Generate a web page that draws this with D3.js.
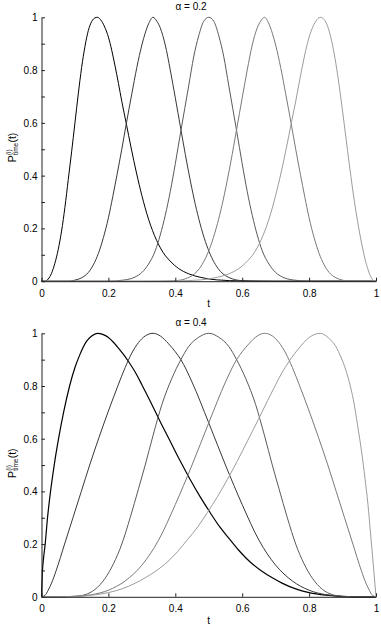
<!DOCTYPE html>
<html>
<head>
<meta charset="utf-8">
<script src="https://cdn.jsdelivr.net/npm/d3@7"></script>
<style>
  html, body { margin: 0; padding: 0; background: #fff; }
  svg { display: block; }
  text { font-family: "Liberation Sans", Arial, Helvetica, sans-serif; fill: #000; }
</style>
</head>
<body>
<svg id="chart" width="381" height="627"></svg>
<script>
// ---------------- data ----------------
const panelTitles = ["α = 0.2", "α = 0.4"];
const xTickValues = [0, 0.2, 0.4, 0.6, 0.8, 1];
const xTickLabels = ["0", "0.2", "0.4", "0.6", "0.8", "1"];
const yTickValues = [0, 0.2, 0.4, 0.6, 0.8, 1];
const yTickLabels = ["0", "0.2", "0.4", "0.6", "0.8", "1"];
const yMinorTicks = [0.1, 0.3, 0.5, 0.7, 0.9];
const xLabel = "t";

// alpha = 0.2, curves peaking at i/6
const a02_i1 = [[0,0],[0.01,0],[0.02,0.008],[0.03,0.03],[0.04,0.068],[0.05,0.12],[0.06,0.19],[0.07,0.28],[0.08,0.385],[0.09,0.49],[0.1,0.6],[0.11,0.71],[0.12,0.81],[0.13,0.89],[0.14,0.95],[0.15,0.984],[0.16,0.998],[0.1667,1],[0.18,0.985],[0.19,0.96],[0.2,0.925],[0.21,0.875],[0.22,0.815],[0.23,0.75],[0.24,0.682],[0.253,0.6],[0.268,0.505],[0.284,0.41],[0.3,0.325],[0.32,0.235],[0.344,0.155],[0.364,0.108],[0.384,0.077],[0.41,0.048],[0.44,0.028],[0.474,0.015],[0.524,0.005],[0.6,0.001],[0.7,0],[1,0]];
const a02_i2 = [[0,0],[0.08,0],[0.1,0.004],[0.12,0.013],[0.14,0.033],[0.155,0.062],[0.17,0.105],[0.185,0.165],[0.2,0.24],[0.213,0.32],[0.226,0.405],[0.24,0.5],[0.254,0.6],[0.27,0.71],[0.285,0.81],[0.3,0.895],[0.31,0.94],[0.32,0.975],[0.3333,1],[0.345,0.985],[0.355,0.96],[0.37,0.895],[0.385,0.8],[0.4,0.695],[0.4167,0.575],[0.43,0.48],[0.445,0.38],[0.46,0.29],[0.474,0.218],[0.49,0.15],[0.505,0.1],[0.52,0.063],[0.535,0.037],[0.55,0.021],[0.57,0.009],[0.6,0.002],[0.65,0],[1,0]];
const a02_i3 = [[0,0],[0.2,0],[0.25,0.005],[0.28,0.016],[0.3,0.033],[0.32,0.065],[0.34,0.115],[0.355,0.175],[0.37,0.25],[0.385,0.34],[0.4,0.445],[0.4167,0.57],[0.44,0.74],[0.455,0.85],[0.47,0.93],[0.485,0.985],[0.5,1],[0.515,0.985],[0.53,0.93],[0.545,0.85],[0.56,0.74],[0.5833,0.57],[0.6,0.445],[0.615,0.34],[0.63,0.25],[0.645,0.175],[0.66,0.115],[0.68,0.065],[0.7,0.033],[0.72,0.016],[0.75,0.005],[0.8,0],[1,0]];
const a02_i4 = [[0,0],[0.35,0],[0.4,0.002],[0.43,0.009],[0.45,0.021],[0.465,0.037],[0.48,0.063],[0.495,0.1],[0.51,0.15],[0.526,0.218],[0.54,0.29],[0.555,0.38],[0.57,0.48],[0.5833,0.575],[0.6,0.695],[0.615,0.8],[0.63,0.895],[0.645,0.96],[0.655,0.985],[0.6667,1],[0.68,0.975],[0.69,0.94],[0.7,0.895],[0.715,0.81],[0.73,0.71],[0.746,0.6],[0.76,0.5],[0.774,0.405],[0.787,0.32],[0.8,0.24],[0.815,0.165],[0.83,0.105],[0.845,0.062],[0.86,0.033],[0.88,0.013],[0.9,0.004],[0.92,0],[1,0]];
const a02_i5 = [[0,0],[0.3,0],[0.4,0.001],[0.476,0.005],[0.526,0.015],[0.56,0.028],[0.59,0.048],[0.616,0.077],[0.636,0.108],[0.656,0.155],[0.68,0.235],[0.7,0.325],[0.716,0.41],[0.732,0.505],[0.747,0.6],[0.76,0.682],[0.77,0.75],[0.78,0.815],[0.79,0.875],[0.8,0.925],[0.81,0.96],[0.82,0.985],[0.8333,1],[0.84,0.997],[0.85,0.982],[0.86,0.948],[0.87,0.895],[0.88,0.825],[0.89,0.74],[0.9,0.645],[0.91,0.545],[0.92,0.445],[0.93,0.35],[0.94,0.265],[0.95,0.19],[0.96,0.125],[0.97,0.07],[0.98,0.03],[0.99,0.005],[0.995,0],[1,0]];

// alpha = 0.4
const a04_i1 = [[0,0],[0.003,0.1],[0.006,0.145],[0.011,0.2],[0.018,0.3],[0.027,0.4],[0.038,0.5],[0.051,0.6],[0.066,0.7],[0.084,0.8],[0.1,0.87],[0.115,0.92],[0.135,0.97],[0.15,0.99],[0.1667,1],[0.185,0.995],[0.2,0.984],[0.215,0.966],[0.23,0.944],[0.245,0.92],[0.26,0.893],[0.28,0.853],[0.3,0.805],[0.324,0.745],[0.352,0.672],[0.384,0.592],[0.414,0.517],[0.444,0.446],[0.474,0.38],[0.504,0.32],[0.533,0.265],[0.563,0.218],[0.593,0.172],[0.623,0.133],[0.659,0.097],[0.69,0.072],[0.719,0.052],[0.76,0.03],[0.8,0.016],[0.85,0.006],[0.9,0.001],[0.95,0],[1,0]];
const a04_i2 = [[0,0],[0.01,0.005],[0.02,0.025],[0.03,0.052],[0.044,0.1],[0.069,0.2],[0.094,0.3],[0.119,0.4],[0.144,0.5],[0.172,0.605],[0.2,0.705],[0.229,0.803],[0.25,0.87],[0.27,0.925],[0.29,0.965],[0.31,0.99],[0.3333,1],[0.355,0.99],[0.38,0.96],[0.4,0.93],[0.4167,0.9],[0.45,0.815],[0.5,0.66],[0.55,0.5],[0.6,0.35],[0.65,0.215],[0.7,0.12],[0.75,0.06],[0.8,0.025],[0.85,0.008],[0.9,0.002],[0.95,0],[1,0]];
const a04_i3 = [[0,0],[0.05,0],[0.1,0.002],[0.13,0.008],[0.16,0.028],[0.19,0.07],[0.215,0.125],[0.24,0.2],[0.265,0.3],[0.29,0.41],[0.31,0.5],[0.333,0.61],[0.36,0.73],[0.39,0.83],[0.4167,0.9],[0.44,0.95],[0.47,0.985],[0.5,1],[0.53,0.985],[0.56,0.95],[0.5833,0.9],[0.61,0.83],[0.64,0.73],[0.667,0.61],[0.69,0.5],[0.71,0.41],[0.735,0.3],[0.76,0.2],[0.785,0.125],[0.81,0.07],[0.84,0.028],[0.87,0.008],[0.9,0.002],[0.95,0],[1,0]];
const a04_i4 = [[0,0],[0.05,0],[0.1,0.002],[0.15,0.008],[0.2,0.025],[0.25,0.06],[0.3,0.12],[0.35,0.215],[0.4,0.35],[0.45,0.5],[0.5,0.66],[0.55,0.815],[0.5833,0.9],[0.6,0.93],[0.62,0.96],[0.645,0.99],[0.6667,1],[0.69,0.99],[0.71,0.965],[0.73,0.925],[0.75,0.87],[0.771,0.803],[0.8,0.705],[0.828,0.605],[0.856,0.5],[0.881,0.4],[0.906,0.3],[0.931,0.2],[0.956,0.1],[0.97,0.052],[0.98,0.025],[0.99,0.005],[1,0]];
const a04_i5 = [[0,0],[0.05,0],[0.1,0.001],[0.15,0.006],[0.2,0.016],[0.24,0.03],[0.281,0.052],[0.31,0.072],[0.341,0.097],[0.377,0.133],[0.407,0.172],[0.437,0.218],[0.467,0.265],[0.496,0.32],[0.526,0.38],[0.556,0.446],[0.586,0.517],[0.616,0.592],[0.648,0.672],[0.676,0.745],[0.7,0.805],[0.72,0.853],[0.74,0.893],[0.755,0.92],[0.77,0.944],[0.785,0.966],[0.8,0.984],[0.815,0.995],[0.8333,1],[0.86,0.98],[0.88,0.95],[0.895,0.91],[0.91,0.86],[0.923,0.8],[0.932,0.75],[0.945,0.65],[0.957,0.55],[0.967,0.45],[0.976,0.35],[0.983,0.25],[0.99,0.15],[0.996,0.06],[1,0]];

const panelSeries = [
  [a02_i1, a02_i2, a02_i3, a02_i4, a02_i5],
  [a04_i1, a04_i2, a04_i3, a04_i4, a04_i5]
];

// ---------------- styling / layout ----------------
const lineColors = ["#000000", "#383838", "#5a5a5a", "#7a7a7a", "#9c9c9c"];
const panelsLayout = [
  { yTop: 17.3, yBottom: 281.2, titleY: 10, tickLabelY: 297, xLabelY: 307 },
  { yTop: 333.3, yBottom: 596.8, titleY: 326, tickLabelY: 612, xLabelY: 623.5 }
];
const xLeft = 41.5, xRight = 376;

const svg = d3.select("#chart");
const x = d3.scaleLinear().domain([0, 1]).range([xLeft, xRight]);

panelsLayout.forEach((L, p) => {
  const y = d3.scaleLinear().domain([0, 1]).range([L.yBottom, L.yTop]);
  const g = svg.append("g");

  // curves
  const line = d3.line().x(d => x(d[0])).y(d => y(d[1])).curve(d3.curveMonotoneX);
  panelSeries[p].forEach((s, i) => {
    g.append("path")
      .attr("d", line(s))
      .attr("fill", "none")
      .attr("stroke", lineColors[i])
      .attr("stroke-width", p === 1 && i === 0 ? 1.2 : 1);
  });

  // y axis (ticks inside)
  const yAxis = d3.axisLeft(y)
    .tickValues(yTickValues)
    .tickFormat((d, i) => yTickLabels[i])
    .tickSizeInner(-3.5).tickSizeOuter(0).tickPadding(4);
  const ya = g.append("g").attr("transform", `translate(${xLeft},0)`).call(yAxis);
  const yMinor = d3.axisLeft(y).tickValues(yMinorTicks).tickFormat("")
    .tickSizeInner(-3.5).tickSizeOuter(0);
  const ym = g.append("g").attr("transform", `translate(${xLeft},0)`).call(yMinor);
  ym.select(".domain").remove();

  // x axis (ticks inside)
  const xAxis = d3.axisBottom(x)
    .tickValues(xTickValues)
    .tickFormat((d, i) => xTickLabels[i])
    .tickSizeInner(-3.5).tickSizeOuter(0).tickPadding(4);
  const xa = g.append("g").attr("transform", `translate(0,${L.yBottom})`).call(xAxis);
  xa.selectAll(".tick text").attr("dy", null)
    .attr("y", L.tickLabelY - L.yBottom);

  [ya, ym, xa].forEach(a => {
    a.selectAll("text").style("font-size", "10px").attr("fill", "#000");
    a.selectAll("line").attr("stroke", "#222");
    a.selectAll(".domain").attr("stroke", "#222");
    a.attr("font-family", null).attr("font-size", null);
  });
  ya.selectAll(".tick text").attr("dy", "0.35em");

  // title
  g.append("text")
    .attr("x", 191).attr("y", L.titleY)
    .attr("text-anchor", "middle")
    .style("font-size", "10px")
    .text(panelTitles[p]);

  // x label
  g.append("text")
    .attr("x", (xLeft + xRight) / 2).attr("y", L.xLabelY)
    .attr("text-anchor", "middle")
    .style("font-size", "10px")
    .text(xLabel);

  // y label: P^{(i)}_{time}(t), rotated
  const yc = (L.yTop + L.yBottom) / 2 - 2;
  const lg = g.append("g").attr("transform", `translate(16,${yc}) rotate(-90)`);
  const px0 = -15;
  lg.append("text").attr("x", px0).attr("y", 0).style("font-size", "10.5px").text("P");
  lg.append("text").attr("x", px0 + 7.2).attr("y", -5).style("font-size", "6.5px").text("(i)");
  lg.append("text").attr("x", px0 + 7.2).attr("y", 2.2).style("font-size", "6.5px").text("time");
  lg.append("text").attr("x", px0 + 7.2 + 12.5).attr("y", 0).style("font-size", "10.5px").text("(t)");
});
</script>
</body>
</html>
